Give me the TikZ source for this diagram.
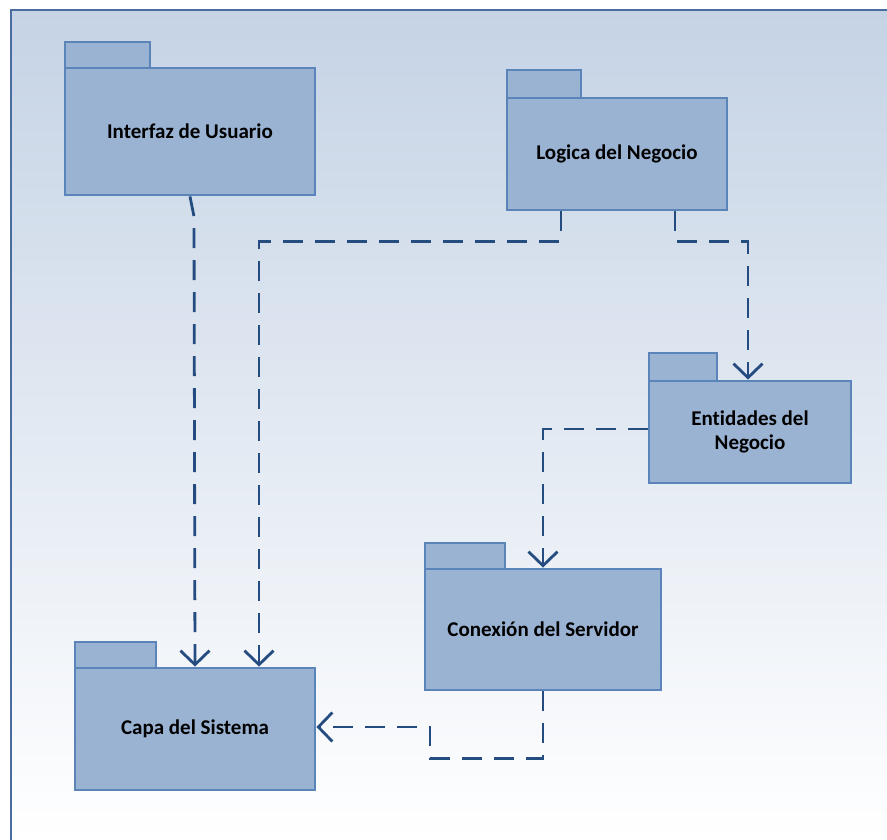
\documentclass[tikz,border=0pt]{standalone}
\usepackage{fontspec}
\setmainfont{Carlito}[Ligatures=NoCommon]
\usetikzlibrary{arrows.meta}
\definecolor{pkgfill}{HTML}{9AB3D3}
\definecolor{pkgdraw}{HTML}{5B84B8}
\definecolor{depcol}{HTML}{254C80}
\definecolor{bgtop}{HTML}{C5D3E5}
\definecolor{frame}{HTML}{4A6DA0}
\tikzset{
  pkg/.style={draw=pkgdraw, fill=pkgfill, line width=2.8pt, rectangle,
    font=\fontsize{21}{24.5}\selectfont\bfseries, align=center, inner sep=0pt},
  pkgtab/.style={draw=pkgdraw, fill=pkgfill, line width=2.8pt},
  dep/.style={draw=depcol, line width=2.8pt, dash pattern=on 20pt off 12pt,
    -{Straight Barb[length=14pt,width=29pt,line width=2.8pt]}}
}
\begin{document}
\begin{tikzpicture}[x=1pt,y=-1pt]
\useasboundingbox (0,0) rectangle (887,840);
\shade[top color=bgtop, bottom color=white] (11,10) rectangle (887,840);
\draw[frame, line width=1.2pt] (11,840) -- (11,10) -- (887,10);

% packages
\draw[pkgtab] (65,68) rectangle (150,42);
\node[pkg, minimum width=250pt, minimum height=127pt] (iu) at (190,131.5) {Interfaz de Usuario};

\draw[pkgtab] (507,98) rectangle (581,70);
\node[pkg, minimum width=220pt, minimum height=112pt] (lg) at (617,154) {Logica del Negocio};

\draw[pkgtab] (649,381) rectangle (717,353);
\node[pkg, minimum width=202pt, minimum height=102pt] (en) at (750,432) {Entidades del\\Negocio};

\draw[pkgtab] (425,569) rectangle (505,543);
\node[pkg, minimum width=236pt, minimum height=121pt] (cx) at (543,629.5) {Conexión del Servidor};

\draw[pkgtab] (75,668) rectangle (156,642);
\node[pkg, minimum width=240pt, minimum height=122pt] (cs) at (195,729) {Capa del Sistema};

% dependencies
\draw[dep] (iu.south) -- ++(4,20) -- (cs.north);
\draw[dep] ([xshift=-56pt]lg.south) -- ++(0,30) -| ([xshift=64pt]cs.north);
\draw[dep] ([xshift=58pt]lg.south) -- ++(0,30) -| ([xshift=-2pt]en.north);
\draw[dep] ([yshift=3pt]en.west) -| (cx.north);
\draw[dep] (cx.south) -- ++(0,67) -- ++(-113,0) |- ([yshift=2pt]cs.east);
\end{tikzpicture}
\end{document}
